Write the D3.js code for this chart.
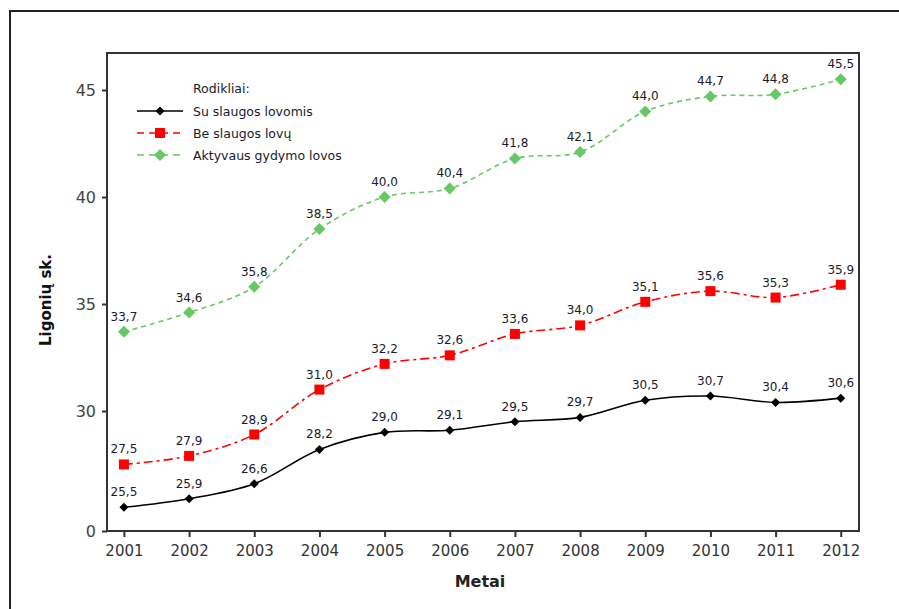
<!DOCTYPE html>
<html>
<head>
<meta charset="utf-8">
<script src="https://cdn.jsdelivr.net/npm/d3@7"></script>
<style>
  body { margin: 0; background: #fff; }
  svg { display: block; }
</style>
</head>
<body>
<div id="main"></div>
<script>
const ctx = {
    w: 899,
    h: 609,
    margin: { top: 53, right: 40, bottom: 77, left: 107 },
};

// duomenys
const years = [2001, 2002, 2003, 2004, 2005, 2006, 2007, 2008, 2009, 2010, 2011, 2012];
const suSlaugos = [25.5, 25.9, 26.6, 28.2, 29.0, 29.1, 29.5, 29.7, 30.5, 30.7, 30.4, 30.6];
const beSlaugos = [27.5, 27.9, 28.9, 31.0, 32.2, 32.6, 33.6, 34.0, 35.1, 35.6, 35.3, 35.9];
const aktyvaus = [33.7, 34.6, 35.8, 38.5, 40.0, 40.4, 41.8, 42.1, 44.0, 44.7, 44.8, 45.5];
const seriesNames = ["Su slaugos lovomis", "Be slaugos lovų", "Aktyvaus gydymo lovos"];
// y ašis nutraukta: apačia pažymėta "0"
const yBreak = 24.39;
const yTicks = [yBreak, 30, 35, 40, 45];

const series = [
    { name: seriesNames[0], values: suSlaugos, color: "#000000", dash: null, marker: "dot" },
    { name: seriesNames[1], values: beSlaugos, color: "#ff0000", dash: "9,4,3,4", marker: "square" },
    { name: seriesNames[2], values: aktyvaus, color: "#66c966", dash: "5,4", marker: "diamond" },
];

const svg = d3.select("#main").append("svg")
    .attr("width", ctx.w)
    .attr("height", ctx.h);

// išorinis rėmelis
svg.append("rect")
    .attr("x", 10).attr("y", 11)
    .attr("width", 1000).attr("height", 700)
    .attr("fill", "none")
    .attr("stroke", "#222")
    .attr("stroke-width", 2);

const x0 = ctx.margin.left, x1 = ctx.w - ctx.margin.right;
const y0 = ctx.h - ctx.margin.bottom - 1, y1 = ctx.margin.top;

const xScale = d3.scaleLinear().domain([2000.74, 2012.28]).range([x0, x1]);
const yScale = d3.scaleLinear().domain([yBreak, 46.73]).range([y0, y1]);

// plot frame
svg.append("rect")
    .attr("x", x0).attr("y", y1)
    .attr("width", x1 - x0).attr("height", y0 - y1)
    .attr("fill", "none")
    .attr("stroke", "#333")
    .attr("stroke-width", 2);

const xAxis = svg.append("g")
    .attr("transform", `translate(0, ${y0})`)
    .call(d3.axisBottom(xScale).tickValues(years).tickFormat(d3.format("d")).tickSize(6).tickSizeOuter(0));
xAxis.select(".domain").remove();
xAxis.selectAll("line").attr("stroke", "#333").attr("stroke-width", 2);
xAxis.selectAll("text")
    .attr("y", 14)
    .style("font-family", "DejaVu Sans")
    .style("font-size", "15px")
    .style("fill", "#333");

const yAxis = svg.append("g")
    .attr("transform", `translate(${x0}, 0)`)
    .call(d3.axisLeft(yScale).tickValues(yTicks)
        .tickFormat(d => d === yBreak ? "0" : d3.format("d")(d))
        .tickSize(5).tickSizeOuter(0));
yAxis.select(".domain").remove();
yAxis.selectAll("line").attr("stroke", "#333").attr("stroke-width", 2);
yAxis.selectAll("text")
    .attr("x", -11)
    .style("font-family", "DejaVu Sans")
    .style("font-size", "16px")
    .style("fill", "#444");

// ašių pavadinimai
svg.append("text")
    .attr("x", 480)
    .attr("y", 587)
    .style("text-anchor", "middle")
    .style("font-family", "DejaVu Sans")
    .style("font-weight", "bold")
    .style("font-size", "16px")
    .style("fill", "#222")
    .text("Metai");

svg.append("text")
    .attr("transform", "translate(51, 300) rotate(-90)")
    .style("text-anchor", "middle")
    .style("font-family", "DejaVu Sans")
    .style("font-weight", "bold")
    .style("font-size", "15px")
    .style("fill", "#111")
    .text("Ligonių sk.");

const line = d3.line()
    .x((d, i) => xScale(years[i]))
    .y(d => yScale(d))
    .curve(d3.curveCatmullRom.alpha(0.5));

function drawMarker(g, type, color, cx, cy) {
    if (type === "square") {
        g.append("rect").attr("x", cx - 5).attr("y", cy - 5)
            .attr("width", 10).attr("height", 10).attr("fill", color);
    } else if (type === "diamond") {
        g.append("path")
            .attr("d", `M${cx},${cy - 6}L${cx + 6},${cy}L${cx},${cy + 6}L${cx - 6},${cy}Z`)
            .attr("fill", color);
    } else {
        g.append("path")
            .attr("d", `M${cx},${cy - 4.5}L${cx + 4.5},${cy}L${cx},${cy + 4.5}L${cx - 4.5},${cy}Z`)
            .attr("fill", color);
    }
}

series.forEach(s => {
    const g = svg.append("g");
    g.append("path")
        .datum(s.values)
        .attr("d", line)
        .attr("fill", "none")
        .attr("stroke", s.color)
        .attr("stroke-width", 1.6)
        .attr("stroke-dasharray", s.dash);
    s.values.forEach((v, i) => {
        drawMarker(g, s.marker, s.color, xScale(years[i]), yScale(v));
    });
    g.selectAll("text.lbl")
        .data(s.values)
        .enter()
        .append("text")
        .attr("class", "lbl")
        .attr("x", (d, i) => xScale(years[i]))
        .attr("y", d => yScale(d) - 11)
        .style("text-anchor", "middle")
        .style("font-family", "DejaVu Sans")
        .style("font-size", "12px")
        .style("fill", "#1a1a2a")
        .text(d => d3.format(".1f")(d).replace(".", ","));
});

// legenda
const leg = svg.append("g");
leg.append("text")
    .attr("x", 193).attr("y", 93)
    .style("font-family", "DejaVu Sans")
    .style("font-size", "12.5px")
    .style("fill", "#1a1a2a")
    .text("Rodikliai:");
series.forEach((s, i) => {
    const cy = 111 + i * 22;
    leg.append("line")
        .attr("x1", 137).attr("x2", 183)
        .attr("y1", cy).attr("y2", cy)
        .attr("stroke", s.color)
        .attr("stroke-width", 1.6)
        .attr("stroke-dasharray", s.dash ? "7,5" : null);
    drawMarker(leg, s.marker, s.color, 160, cy);
    leg.append("text")
        .attr("x", 193).attr("y", cy + 4.5)
        .style("font-family", "DejaVu Sans")
        .style("font-size", "12.5px")
        .style("fill", "#1a1a2a")
        .text(s.name);
});
</script>
</body>
</html>
